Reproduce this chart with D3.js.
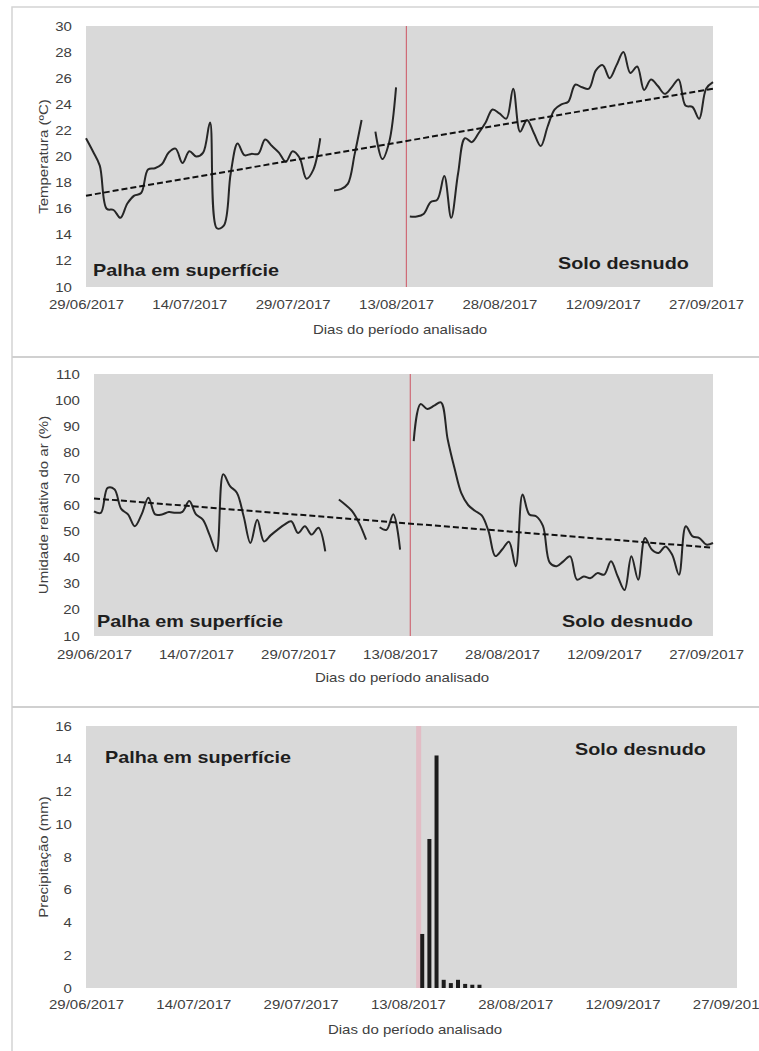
<!DOCTYPE html>
<html>
<head>
<meta charset="utf-8">
<script src="https://cdn.jsdelivr.net/npm/d3@7"></script>
<style>
    body{margin:0;background:#fff;}
    svg{display:block;font-family:'Liberation Sans',Arial,sans-serif;}
</style>
</head>
<body>
<div id="chart"></div>
<script>
// dados
var startDay = "2017-06-29";
var endDay = "2017-09-28";
var divisaoDia = "2017-08-14T12:00";
var tickDias = ["2017-06-29","2017-07-14","2017-07-29","2017-08-13","2017-08-28","2017-09-12","2017-09-27"];

var temperatura = [21.4,20.4,19.3,16.0,15.9,15.3,16.4,17.0,17.2,19.0,
    19.1,19.4,20.3,20.6,19.5,20.4,20.0,20.3,22.6,14.5,
    14.7,18.7,21.0,20.1,20.2,20.2,21.3,20.8,20.3,19.6,
    20.4,19.9,18.3,19.0,21.4,null,17.4,17.5,17.9,20.2,
    22.8,null,21.9,19.8,21.1,25.3,null,15.4,15.4,15.6,
    16.5,16.7,18.5,15.3,18.7,21.4,21.1,21.8,22.6,23.6,
    23.3,22.9,25.2,21.9,22.8,21.8,20.8,22.3,23.6,24.0,
    24.2,25.5,25.3,25.2,26.6,27.0,26.0,27.0,28.0,26.4,
    26.9,25.1,25.9,25.4,24.8,25.3,25.9,23.9,23.8,22.9,
    25.2,25.7];
var tempTendencia = [17.0, 25.2];
var tempTicks = [10,12,14,16,18,20,22,24,26,28,30];

var umidade = [57.6,57.0,66.5,66.0,58.5,56.4,51.9,56.4,62.8,56.4,
    56.4,57.3,57.0,57.4,61.5,56.4,54.4,48.5,42.3,71.7,
    67.2,64.7,55.7,45.5,54.4,46.1,48.5,50.6,52.5,53.8,
    49.3,51.9,48.7,51.3,42.3,null,62.1,60.0,57.5,53.0,
    46.8,null,51.5,50.5,56.5,43.0,null,84.4,98.5,96.6,
    97.9,99.2,85.0,74.0,64.5,60.0,57.8,56.0,50.0,40.5,
    43.0,46.0,36.6,64.0,56.4,55.7,52.0,38.0,36.6,38.5,
    40.4,31.5,32.7,32.1,34.0,33.4,38.5,32.7,27.6,40.4,
    31.5,47.4,43.0,41.7,44.2,41.0,33.4,51.9,48.0,47.4,
    44.9,45.5];
var umidTendencia = [62.5, 43.7];
var umidTicks = [10,20,30,40,50,60,70,80,90,100,110];

var chuvaDias = ["2017-08-15","2017-08-16","2017-08-17","2017-08-18","2017-08-19","2017-08-20","2017-08-21","2017-08-22","2017-08-23"];
var chuva = [3.3,9.1,14.2,0.5,0.3,0.5,0.25,0.2,0.2];
var chuvaTicks = [0,2,4,6,8,10,12,14,16];

var tituloX = "Dias do período analisado";
var rotuloPalha = "Palha em superfície";
var rotuloSolo = "Solo desnudo";

var W = 759, H = 1051;
var parseDay = d3.utcParse("%Y-%m-%d");
var parseDT = d3.utcParse("%Y-%m-%dT%H:%M");
var fmt = d3.utcFormat("%d/%m/%Y");
var t0 = parseDay(startDay), t1 = parseDay(endDay);
var dias = d3.utcDay.range(t0, d3.utcDay.offset(t1, 1));
var divisao = parseDT(divisaoDia);
var SX = 1.2;

var svg = d3.select('#chart').append('svg')
    .attr('width', W)
    .attr('height', H);

// molduras cinza claro
svg.append('path')
    .attr('d', 'M759,7H12V1051')
    .attr('fill', 'none').attr('stroke', '#d4d4d4').attr('stroke-width', 1.5);
[357, 707].forEach(function (y) {
    svg.append('line').attr('x1', 12).attr('x2', W).attr('y1', y).attr('y2', y)
        .attr('stroke', '#d0d0d0').attr('stroke-width', 2);
});

function stext(g, x, y, s, opt) {
    opt = opt || {};
    return g.append('text')
        .attr('transform', 'translate(' + x + ',' + y + ')' + (opt.rot ? ' rotate(-90)' : '') + ' scale(' + SX + ',1)')
        .attr('text-anchor', opt.anchor || 'start')
        .attr('font-size', opt.size || 12.5)
        .attr('font-weight', opt.bold ? 'bold' : 'normal')
        .attr('fill', opt.color || '#404040')
        .text(s);
}

function painel(p) {
    var g = svg.append('g');
    var x = d3.scaleUtc().domain([t0, t1]).range([p.left, p.right]);
    var y = d3.scaleLinear().domain(p.yDomain).range([p.bottom, p.top]);

    g.append('rect')
        .attr('x', p.left).attr('y', p.top)
        .attr('width', p.right - p.left).attr('height', p.bottom - p.top)
        .attr('fill', '#d9d9d9');

    // linha vermelha de separação
    g.append('line')
        .attr('x1', x(divisao)).attr('x2', x(divisao))
        .attr('y1', p.top).attr('y2', p.bottom)
        .attr('stroke', p.redColor).attr('stroke-width', p.redWidth);

    var ax = g.append('g')
        .attr('transform', 'translate(0,' + p.bottom + ')')
        .call(d3.axisBottom(x).tickValues(tickDias.map(parseDay)).tickFormat(fmt).tickSize(0).tickPadding(p.xPad));
    ax.select('.domain').remove();
    ax.attr('font-size', null).attr('font-family', null);
    ax.selectAll('text').attr('transform', 'scale(' + SX + ',1)')
        .attr('fill', '#404040').style('font-size', '12.5px');

    var ay = g.append('g')
        .attr('transform', 'translate(' + p.left + ',0)')
        .call(d3.axisLeft(y).tickValues(p.yTicks).tickSize(0).tickPadding(11.7));
    ay.select('.domain').remove();
    ay.attr('font-size', null).attr('font-family', null);
    ay.selectAll('text').attr('transform', 'scale(' + SX + ',1)')
        .attr('fill', '#404040').style('font-size', '12.5px');

    stext(g, p.xTitleX, p.xTitleY, tituloX, {anchor: 'middle'});
    stext(g, 47.5, (p.top + p.bottom) / 2, p.yTitle, {anchor: 'middle', rot: true});

    stext(g, p.palha[0], p.palha[1], rotuloPalha, {bold: true, size: 16.5, color: '#1e1e1e'});
    stext(g, p.solo[0], p.solo[1], rotuloSolo, {bold: true, size: 16.5, color: '#1e1e1e'});

    return {g: g, x: x, y: y};
}

function serieLinha(pn, valores, tendencia) {
    var line = d3.line()
        .defined(function (d) { return d[1] != null; })
        .x(function (d) { return pn.x(d[0]); })
        .y(function (d) { return pn.y(d[1]); })
        .curve(d3.curveCatmullRom.alpha(0.5));
    var pts = dias.map(function (d, i) { return [d, valores[i]]; });
    pn.g.append('path')
        .attr('d', line(pts))
        .attr('fill', 'none')
        .attr('stroke', '#262626')
        .attr('stroke-width', 2)
        .attr('stroke-linejoin', 'round');
    pn.g.append('line')
        .attr('x1', pn.x(t0)).attr('y1', pn.y(tendencia[0]))
        .attr('x2', pn.x(t1)).attr('y2', pn.y(tendencia[1]))
        .attr('stroke', '#111')
        .attr('stroke-width', 2)
        .attr('stroke-dasharray', '6,3');
}

var p1 = painel({
    left: 86, right: 713, top: 26, bottom: 287,
    yDomain: [10, 30], yTicks: tempTicks, xPad: 13,
    yTitle: "Temperatura (ºC)", xTitleX: 400, xTitleY: 334,
    palha: [93, 276], solo: [558, 269],
    redColor: '#cf6a76', redWidth: 1.2
});
serieLinha(p1, temperatura, tempTendencia);

var p2 = painel({
    left: 94, right: 713, top: 374, bottom: 636,
    yDomain: [10, 110], yTicks: umidTicks, xPad: 14,
    yTitle: "Umidade relativa do ar (%)", xTitleX: 402, xTitleY: 682,
    palha: [97, 627], solo: [562, 627],
    redColor: '#cf6a76', redWidth: 1.2
});
serieLinha(p2, umidade, umidTendencia);

var p3 = painel({
    left: 86, right: 737, top: 726, bottom: 988,
    yDomain: [0, 16], yTicks: chuvaTicks, xPad: 12,
    yTitle: "Precipitação (mm)", xTitleX: 415, xTitleY: 1034,
    palha: [105, 763], solo: [575, 755],
    redColor: '#e2bcc5', redWidth: 5
});
p3.g.selectAll('.barra')
    .data(chuva)
    .enter().append('rect')
    .attr('class', 'barra')
    .attr('x', function (d, i) { return p3.x(parseDay(chuvaDias[i])) - 2; })
    .attr('y', function (d) { return p3.y(d); })
    .attr('width', 4)
    .attr('height', function (d) { return p3.y(0) - p3.y(d); })
    .attr('fill', '#1c1c1c');
</script>
</body>
</html>
